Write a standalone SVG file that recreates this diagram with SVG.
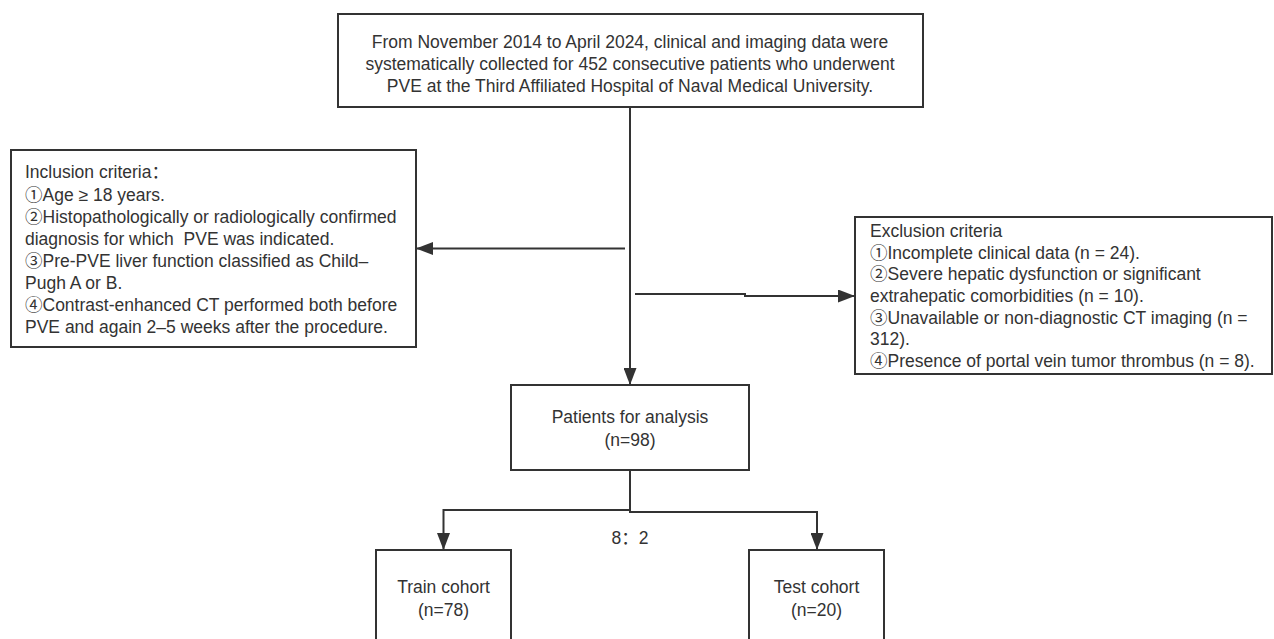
<svg xmlns="http://www.w3.org/2000/svg" width="1274" height="639" viewBox="0 0 1274 639">
<style>
.box{fill:#fff;stroke:#333;stroke-width:2}
.t{font-family:"Liberation Sans","Noto Sans CJK SC",Arial,sans-serif;font-size:17.5px;fill:#333}
.c{text-anchor:middle}
.ln{fill:none;stroke:#333;stroke-width:2}
</style>
<defs>
<marker id="ah" markerUnits="userSpaceOnUse" markerWidth="17" markerHeight="13" viewBox="0 0 17 13" refX="16" refY="6.5" orient="auto">
<path d="M0,0 L17,6.5 L0,13 z" fill="#333"/>
</marker>
</defs>
<rect width="1274" height="639" fill="#fff"/>
<g id="connectors">
<line class="ln" x1="630" y1="107" x2="630" y2="384" marker-end="url(#ah)"/>
<line class="ln" x1="625" y1="248.5" x2="417" y2="248.5" marker-end="url(#ah)"/>
<polyline class="ln" points="635,294 745,294 745,296 854,296" marker-end="url(#ah)"/>
<polyline class="ln" points="630,470 630,510 443.5,510 443.5,549" marker-end="url(#ah)"/>
<polyline class="ln" points="630,510 630,512 817,512 817,549" marker-end="url(#ah)"/>
</g>
<g id="source">
<rect class="box" x="338" y="14" width="585" height="93"/>
<text class="t c" x="630" y="48">From November 2014 to April 2024, clinical and imaging data were</text>
<text class="t c" x="630" y="70">systematically collected for 452 consecutive patients who underwent</text>
<text class="t c" x="630" y="92">PVE at the Third Affiliated Hospital of Naval Medical University.</text>
</g>
<g id="inclusion">
<rect class="box" x="11" y="150" width="405" height="197"/>
<text class="t" x="25" y="178">Inclusion criteria：</text>
<text class="t" x="25" y="201">①Age ≥ 18 years.</text>
<text class="t" x="25" y="223">②Histopathologically or radiologically confirmed</text>
<text class="t" x="25" y="245" xml:space="preserve">diagnosis for which  PVE was indicated.</text>
<text class="t" x="25" y="267">③Pre-PVE liver function classified as Child–</text>
<text class="t" x="25" y="289">Pugh A or B.</text>
<text class="t" x="25" y="311">④Contrast-enhanced CT performed both before</text>
<text class="t" x="25" y="333">PVE and again 2–5 weeks after the procedure.</text>
</g>
<g id="exclusion">
<rect class="box" x="855" y="217" width="417" height="157"/>
<text class="t" x="870" y="237">Exclusion criteria</text>
<text class="t" x="870" y="259">①Incomplete clinical data (n = 24).</text>
<text class="t" x="870" y="280">②Severe hepatic dysfunction or significant</text>
<text class="t" x="870" y="302">extrahepatic comorbidities (n = 10).</text>
<text class="t" x="870" y="324">③Unavailable or non-diagnostic CT imaging (n =</text>
<text class="t" x="870" y="345">312).</text>
<text class="t" x="870" y="367">④Presence of portal vein tumor thrombus (n = 8).</text>
</g>
<g id="analysis">
<rect class="box" x="511" y="385" width="238" height="85"/>
<text class="t c" x="630" y="423">Patients for analysis</text>
<text class="t c" x="630" y="446">(n=98)</text>
</g>
<text class="t c" x="630" y="544">8：2</text>
<g id="train">
<rect class="box" x="376" y="550" width="135" height="100"/>
<text class="t c" x="443.5" y="593">Train cohort</text>
<text class="t c" x="443.5" y="616">(n=78)</text>
</g>
<g id="test">
<rect class="box" x="749" y="550" width="135" height="100"/>
<text class="t c" x="816.5" y="593">Test cohort</text>
<text class="t c" x="816.5" y="616">(n=20)</text>
</g>
</svg>
